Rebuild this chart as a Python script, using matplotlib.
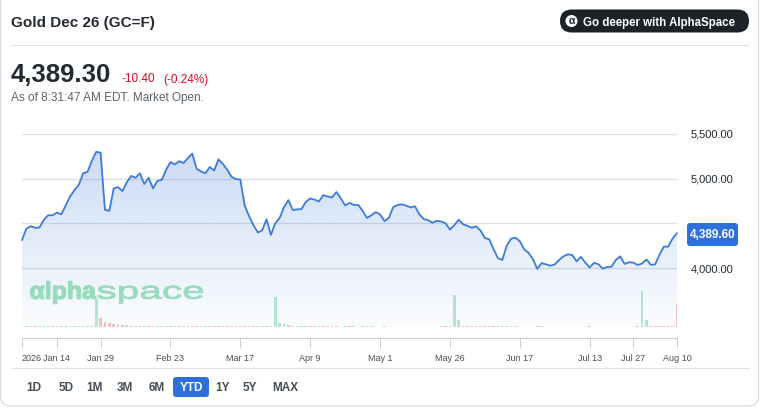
import matplotlib
matplotlib.use('Agg')
import matplotlib.pyplot as plt
from matplotlib.patches import FancyBboxPatch, Circle, PathPatch
from matplotlib.textpath import TextPath
from matplotlib.font_manager import FontProperties
from matplotlib.transforms import Affine2D
from matplotlib.colors import to_rgb
import numpy as np
import pandas as pd

plt.rcParams['font.family'] = ['Liberation Sans', 'DejaVu Sans']

W, H = 762, 409

# trading days, YTD 2026 (COMEX holidays removed)
holidays = ['2026-01-19', '2026-02-16', '2026-04-03', '2026-05-25',
            '2026-06-19', '2026-07-03']
dates = pd.bdate_range('2026-01-02', '2026-08-10')
dates = dates[~dates.isin(pd.to_datetime(holidays))]

# closing prices, one per trading day
prices = [
    4313, 4440, 4468, 4450, 4452, 4540, 4590, 4590, 4620, 4600,
    4700, 4800, 4870, 4930, 5060, 5075, 5200, 5300, 5290, 4650,
    4640, 4890, 4905, 4860, 4960, 5030, 5010, 5060, 4940, 5010,
    4890, 4975, 4985, 5100, 5185, 5160, 5195, 5175, 5230, 5280,
    5110, 5080, 5060, 5130, 5090, 5215, 5165, 5100, 5020, 4995,
    4990, 4700, 4580, 4480, 4398, 4420, 4545, 4370, 4500, 4560,
    4680, 4760, 4650, 4655, 4660, 4740, 4778, 4765, 4745, 4815,
    4800, 4790, 4850, 4780, 4700, 4728, 4705, 4705, 4640, 4560,
    4590, 4625, 4600, 4525, 4560, 4680, 4705, 4713, 4697, 4678,
    4690, 4600, 4548, 4535, 4507, 4528, 4520, 4500, 4430, 4480,
    4540, 4490, 4472, 4450, 4465, 4420, 4335, 4322, 4210, 4110,
    4090, 4250, 4328, 4340, 4300, 4210, 4170, 4100, 3990, 4055,
    4040, 4026, 4040, 4090, 4130, 4153, 4145, 4075, 4125, 4060,
    4005, 4058, 4042, 3992, 4012, 4015, 4090, 4130, 4045, 4065,
    4060, 4034, 4050, 4095, 4036, 4040, 4150, 4239, 4240, 4330,
    4390,
]

# volume (relative units) and up/down side of each day
volume = [
    .6, .6, .6, .6, .6, .6, .6, .6, .6, .6,
    .6, .6, .6, .6, .6, .6, 1, 28, 9, 5,
    4, 3, 3, 2, 2, .6, .6, .6, .6, .6,
    .6, .6, .6, .6, .6, .6, .6, .6, .6, .6,
    .6, .6, .6, .6, .6, .6, .6, .6, .6, .6,
    .6, .6, .6, .6, .6, .6, .6, .6, 30, 4,
    3, 2, .6, .6, .6, .6, .6, .6, .6, .6,
    .6, .6, .6, 0, .6, .6, .6, 0, .6, .6,
    .6, 0, 0, .6, 0, 0, 0, 0, 0, 0,
    0, 0, 0, 0, 0, 0, .6, .6, .6, 32,
    7, 1, .6, .6, .6, .6, .6, .6, .6, .6,
    .6, .6, .6, .6, 0, 0, 0, 0, .6, .6,
    0, 0, 0, 0, 0, 0, 0, 0, 0, 0,
    .6, 0, 0, 0, 0, 0, 0, 0, 0, 0,
    0, .6, 36, 7, .6, .6, .6, .6, .6, .6,
    23,
]
side = ("uuuduuudud" "uuuuuuuudd" "ddddududud" "duuududuud" "ddududdddd"
        "dddduuduuu" "uduuuuddud" "duddududdu" "udduuuuddu" "dddduddddu"
        "uddduddddd" "uuuddddddu" "dduuuddudd" "dudduuuudu" "dduudddddd" "d")

tick_dates = ['2026-01-02', '2026-01-14', '2026-01-29', '2026-02-23', '2026-03-17',
              '2026-04-09', '2026-05-01', '2026-05-26', '2026-06-17', '2026-07-13',
              '2026-07-27', '2026-08-10']
tick_labels = ['2026', 'Jan 14', 'Jan 29', 'Feb 23', 'Mar 17', 'Apr 9', 'May 1',
               'May 26', 'Jun 17', 'Jul 13', 'Jul 27', 'Aug 10']

price_ticks = [4000, 4500, 5000, 5500]
price_tick_labels = ['4,000.00', '', '5,000.00', '5,500.00']

ranges = ['1D', '5D', '1M', '3M', '6M', 'YTD', '1Y', '5Y', 'MAX']
range_x = [34, 66, 94, 125, 157, 191, 223, 250, 285]

last_price = '4,389.60'

x = np.arange(len(dates))
tick_idx = [dates.get_loc(pd.Timestamp(d)) for d in tick_dates]
ymin, ymax = 3340, 5600


def box(x0, y0, x1, y1):
    return [x0 / W, 1 - y1 / H, (x1 - x0) / W, (y1 - y0) / H]


fig = plt.figure(figsize=(W / 100, H / 100), dpi=100)
fig.patch.set_facecolor('white')

# pixel overlay for the page furniture
ui = fig.add_axes([0, 0, 1, 1], zorder=0)
ui.set_xlim(0, W)
ui.set_ylim(H, 0)
ui.axis('off')

# --- price pane
ax = fig.add_axes(box(22, 125, 677, 327), zorder=2)
ax.patch.set_visible(False)
grad = np.zeros((256, 1, 4))
grad[..., :3] = to_rgb('#3b78d8')
grad[:, 0, 3] = np.linspace(0.02, 0.30, 256)
im = ax.imshow(grad, extent=[0, len(x) - 1, ymin, ymax], origin='lower',
               aspect='auto', zorder=1, interpolation='bilinear')
poly = ax.fill_between(x, prices, ymin, facecolor='none', edgecolor='none')
im.set_clip_path(poly.get_paths()[0], transform=ax.transData)
ax.plot(x, prices, color='#3d7bd9', lw=1.3, zorder=3, solid_joinstyle='round',
        solid_capstyle='round', clip_on=False)
ax.set_xlim(0, len(x) - 1)
ax.set_ylim(ymin, ymax)
ax.set_xticks([])
ax.yaxis.tick_right()
ax.set_yticks(price_ticks)
ax.set_yticklabels(price_tick_labels)
ax.tick_params(axis='y', length=0, pad=10, labelsize=8, labelcolor='#232a31')
ax.yaxis.grid(True, color='#dcdfe4', lw=0.9)
ax.set_axisbelow(True)
for s in ax.spines.values():
    s.set_visible(False)

# --- volume pane
axv = fig.add_axes(box(22, 285, 677, 327), zorder=1)
axv.patch.set_visible(False)
vol_colors = ['#b7ead0' if c == 'u' else '#f4c4c4' for c in side]
axv.bar(x, volume, width=0.65, color=vol_colors, linewidth=0)
axv.set_xlim(0, len(x) - 1)
axv.set_ylim(0, 42)
axv.axis('off')

# --- date axis
axt = fig.add_axes(box(22, 330, 677, 338), zorder=1)
axt.patch.set_visible(False)
axt.set_xlim(0, len(x) - 1)
axt.set_yticks([])
for k in ['top', 'left', 'right']:
    axt.spines[k].set_visible(False)
axt.spines['bottom'].set_color('#c9cdd3')
axt.spines['bottom'].set_linewidth(0.8)
axt.set_xticks(tick_idx)
axt.set_xticklabels(tick_labels)
axt.tick_params(axis='x', direction='out', length=7.2, width=0.7, color='#c9cdd3',
                pad=4, labelsize=6.5, labelcolor='#464e56')
axt.get_xticklabels()[0].set_horizontalalignment('left')

# --- header
ui.text(11, 26.5, 'Gold Dec 26 (GC=F)', fontsize=11, fontweight='bold',
        color='#232a31', va='baseline')
ui.plot([11, 749], [45, 45], color='#e0e4e9', lw=0.8)
ui.add_patch(FancyBboxPatch((560, 9.5), 189, 23, boxstyle='round,pad=0,rounding_size=11.5',
                            facecolor='#1d2228', edgecolor='none'))
ui.add_patch(Circle((571.5, 21), 6, facecolor='white', edgecolor='none'))
ui.text(571.5, 21.5, 'α', fontsize=7.5, fontweight='bold', color='#1d2228',
        ha='center', va='center')
ui.text(583, 25.7, 'Go deeper with AlphaSpace', fontsize=8.3, fontweight='bold',
        color='white', va='baseline')

ui.text(11, 82.3, '4,389.30', fontsize=18.5, fontweight='bold', color='#232a31',
        va='baseline')
ui.text(121, 82.5, '-10.40', fontsize=8.5, color='#d60a22', va='baseline')
ui.text(163, 82.5, '(-0.24%)', fontsize=8.5, color='#d60a22', va='baseline')
ui.text(11, 101.5, 'As of 8:31:47 AM EDT. Market Open.', fontsize=8.5,
        color='#5b636a', va='baseline')

# last price badge
ui.add_patch(FancyBboxPatch((687, 223), 51, 23, boxstyle='round,pad=0,rounding_size=3',
                            facecolor='#2f6fdc', edgecolor='none'))
ui.text(712.5, 235, last_price, fontsize=8.5, fontweight='bold', color='white',
        ha='center', va='center')


# watermark, stretched to the logo's box
def logo_part(s, x0, x1, base, size, weight, stroke):
    tp = TextPath((0, 0), s, size=size,
                  prop=FontProperties(family='Liberation Sans', weight=weight))
    bb = tp.get_extents()
    sx = (x1 - x0) / bb.width
    tr = Affine2D().translate(-bb.x0, 0).scale(sx, -1).translate(x0, base)
    ui.add_patch(PathPatch(tp, transform=tr + ui.transData, facecolor='#9fe2bc',
                           edgecolor='#9fe2bc', lw=stroke, zorder=0.5))


logo_part('αlpha', 30.5, 96, 298.7, 24, 'bold', 0.9)
logo_part('space', 97.5, 203, 298.7, 24, 'normal', 0.6)

# bottom separator + range buttons
ui.plot([11, 749], [368, 368], color='#e0e4e9', lw=0.8)
for lab, rx in zip(ranges, range_x):
    if lab == 'YTD':
        ui.add_patch(FancyBboxPatch((173, 377), 36, 20, boxstyle='round,pad=0,rounding_size=3',
                                    facecolor='#2f6fdc', edgecolor='none'))
        ui.text(rx, 391, lab, fontsize=8.5, fontweight='bold', color='white',
                ha='center', va='baseline')
    else:
        ui.text(rx, 391, lab, fontsize=8.5, fontweight='bold', color='#464e56',
                ha='center', va='baseline')

# card outline
ui.add_patch(FancyBboxPatch((0.5, -30), 758, 436, boxstyle='round,pad=0,rounding_size=10',
                            facecolor='none', edgecolor='#d5dae2', lw=0.9))

fig.savefig('out.png', dpi=100)
